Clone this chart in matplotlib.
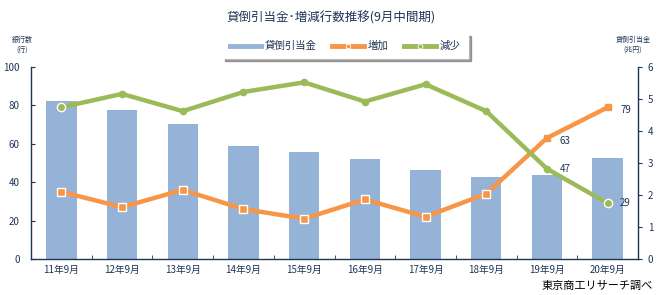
import matplotlib
matplotlib.use("Agg")
import matplotlib.pyplot as plt
from matplotlib.lines import Line2D
import numpy as np

plt.rcParams["font.family"] = ["Noto Sans CJK JP", "DejaVu Sans"]

# data
periods = ["11年9月", "12年9月", "13年9月", "14年9月", "15年9月",
           "16年9月", "17年9月", "18年9月", "19年9月", "20年9月"]
provisions = [4.94, 4.66, 4.22, 3.53, 3.34, 3.13, 2.78, 2.55, 2.62, 3.16]  # 兆円
increase = [35, 27, 36, 26, 21, 31, 22, 34, 63, 79]
decrease = [79, 86, 77, 87, 92, 82, 91, 77, 47, 29]

BAR = "#95b3d7"
ORANGE = "#f79646"
GREEN = "#9bbb59"
NAVY = "#1f3556"

fig = plt.figure(figsize=(6.63, 2.95), dpi=100)
ax = fig.add_axes([31 / 663, 36 / 295, 607 / 663, 192 / 295])
ax2 = ax.twinx()

x = np.arange(len(periods))

# bars on right axis
ax2.bar(x, provisions, width=0.5, color=BAR, zorder=1)
ax2.set_ylim(0, 6)
ax2.set_yticks(range(7))

# lines on left axis, drawn above bars
ax.set_zorder(ax2.get_zorder() + 1)
ax.patch.set_visible(False)

ax.plot(x, increase, color=ORANGE, lw=3.2, zorder=3, solid_capstyle="round")
ax.plot(x[:8], increase[:8], ls="none", marker="s", ms=6, mfc=ORANGE,
        mec="white", mew=1.0, zorder=4)
ax.plot(x[8:], increase[8:], ls="none", marker="s", ms=5, mfc=ORANGE,
        mec=ORANGE, zorder=4)

ax.plot(x, decrease, color=GREEN, lw=3.2, zorder=3, solid_capstyle="round")
ax.plot(x[1:9], decrease[1:9], ls="none", marker="o", ms=4.5, mfc=GREEN,
        mec=GREEN, zorder=4)
ax.plot([x[0], x[-1]], [decrease[0], decrease[-1]], ls="none", marker="o",
        ms=6, mfc=GREEN, mec="white", mew=1.0, zorder=4)

for i in (8, 9):
    ax.annotate(str(increase[i]), (x[i], increase[i]), xytext=(9, -4),
                textcoords="offset points", fontsize=7, color=NAVY)
    ax.annotate(str(decrease[i]), (x[i], decrease[i]), xytext=(9, -2),
                textcoords="offset points", fontsize=7, color=NAVY)

ax.set_xlim(-0.5, len(periods) - 0.5)
ax.set_ylim(0, 100)
ax.set_yticks(range(0, 101, 20))
ax.set_xticks(x)
ax.set_xticklabels(periods)
ax.set_xticks(np.arange(0.5, len(periods) - 0.5, 1), minor=True)
ax.tick_params(axis="x", which="major", length=0, labelsize=7,
               labelcolor=NAVY, pad=4)
ax.tick_params(axis="x", which="minor", length=3, direction="in", color=NAVY)
ax.tick_params(axis="y", length=3, direction="in", labelsize=7,
               labelcolor=NAVY, color=NAVY, pad=8)
ax2.tick_params(axis="y", length=3, direction="out", labelsize=7,
                labelcolor=NAVY, color=NAVY, pad=4)

for a in (ax, ax2):
    for s in a.spines.values():
        s.set_visible(False)
ax.spines["left"].set_visible(True)
ax.spines["bottom"].set_visible(True)
ax2.spines["right"].set_visible(True)
for s in (ax.spines["left"], ax.spines["bottom"], ax2.spines["right"]):
    s.set_color(NAVY)
    s.set_linewidth(1.0)

fig.text(0.5, 0.94, "貸倒引当金･増減行数推移(9月中間期)", ha="center",
         va="center", fontsize=9, color=NAVY)
fig.text(22 / 663, 1 - 45 / 295, "銀行数\n(行)", ha="center", va="center",
         fontsize=5, color=NAVY, linespacing=1.3)
fig.text(633 / 663, 1 - 45 / 295, "貸倒引当金\n(兆円)", ha="center",
         va="center", fontsize=5, color=NAVY, linespacing=1.3)
fig.text(0.985, 0.03, "東京商工リサーチ調べ", ha="right", va="center",
         fontsize=8, color="black")

handles = [
    Line2D([], [], color=BAR, lw=3.5),
    Line2D([], [], color=ORANGE, lw=3.5, marker="s", ms=3.5, mfc=ORANGE,
           mec="white", mew=0.6),
    Line2D([], [], color=GREEN, lw=3.5, marker="o", ms=3.5, mfc=GREEN,
           mec="white", mew=0.6),
]
leg = fig.legend(handles, ["貸倒引当金", "増加", "減少"], ncol=3,
                 loc="center", bbox_to_anchor=(345 / 663, 1 - 46 / 295),
                 fontsize=7.5, frameon=True, fancybox=False, shadow=True,
                 handlelength=3.0, handletextpad=0.4, columnspacing=1.5,
                 borderpad=0.7)
leg.get_frame().set_edgecolor("white")
for t in leg.get_texts():
    t.set_color(NAVY)

fig.savefig("out.png", dpi=100)
